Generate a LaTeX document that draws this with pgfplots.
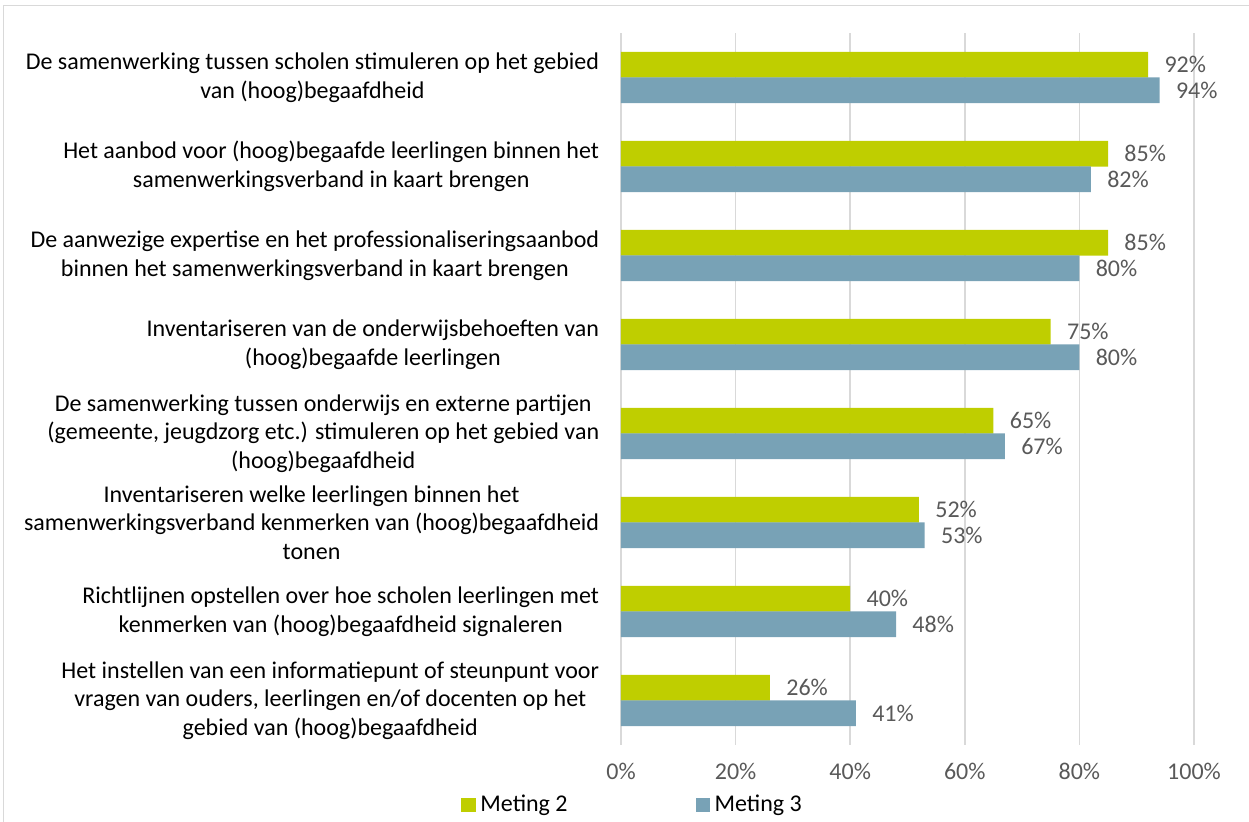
\documentclass[border=0pt]{standalone}
\usepackage{fontspec}
\setmainfont{Carlito}
\usepackage{pgfplots}
\pgfplotsset{compat=1.18}
\definecolor{mgreen}{HTML}{BFCE00}
\definecolor{mblue}{HTML}{78A2B6}
\definecolor{tgray}{HTML}{595959}
\definecolor{ggray}{HTML}{D9D9D9}
\begin{document}
\begin{tikzpicture}
\useasboundingbox (0,0) rectangle (624.5pt,-411pt);
\draw[ggray, line width=0.8pt] (1.75pt,-2.75pt) rectangle (640pt,-430pt);
\begin{axis}[
  at={(310.5pt,-372.5pt)}, anchor=south west,
  scale only axis, width=286.5pt, height=356pt,
  xbar, bar width=12.85pt,
  xmin=0, xmax=100, ymin=-0.5, ymax=7.5,
  axis line style={draw=none},
  xtick={0,20,40,60,80,100},
  xticklabel={\pgfmathprintnumber{\tick}\%},
  /pgf/number format/assume math mode=true,
  xmajorgrids, major grid style={ggray, line width=0.8pt},
  tick style={draw=none},
  xticklabel style={font=\fontsize{12}{14}\selectfont, text=tgray, anchor=north, inner sep=0pt, yshift=-9pt},
  ytick={0,1,2,3,4,5,6,7},
  yticklabels={
    {Het instellen van een informatiepunt of steunpunt voor\\vragen van ouders, leerlingen en/of docenten op het\\gebied van (hoog)begaafdheid},
    {Richtlijnen opstellen over hoe scholen leerlingen met\\kenmerken van (hoog)begaafdheid signaleren},
    {Inventariseren welke leerlingen binnen het\\samenwerkingsverband kenmerken van (hoog)begaafdheid\\tonen},
    {De samenwerking tussen onderwijs en externe partijen\\(gemeente, jeugdzorg etc.) stimuleren op het gebied van\\(hoog)begaafdheid},
    {Inventariseren van de onderwijsbehoeften van\\(hoog)begaafde leerlingen},
    {De aanwezige expertise en het professionaliseringsaanbod\\binnen het samenwerkingsverband in kaart brengen},
    {Het aanbod voor (hoog)begaafde leerlingen binnen het\\samenwerkingsverband in kaart brengen},
    {De samenwerking tussen scholen stimuleren op het gebied\\van (hoog)begaafdheid}
  },
  yticklabel style={font=\fontsize{12}{14.3}\selectfont, text=black, align=center, anchor=east, inner sep=0pt, xshift=-6.5pt},
  point meta=x,
  nodes near coords={\pgfmathprintnumber{\pgfplotspointmeta}\%},
  nodes near coords style={font=\fontsize{12}{14}\selectfont, text=tgray, anchor=west, inner sep=0pt, xshift=8pt},
  legend columns=2,
  legend style={at={(-0.2792,-0.0843)}, anchor=west, draw=none, fill=none, inner sep=0pt,
    font=\fontsize{12}{14}\selectfont, nodes={inner sep=0pt},
    /tikz/every odd column/.append style={column sep=2.2pt},
    /tikz/every even column/.append style={column sep=64pt}},
  legend image code/.code={\fill[#1] (0pt,-3.65pt) rectangle (7.3pt,3.65pt);},
]
\addplot[fill=mgreen, draw=none, bar shift=6.42pt] coordinates {
(92,7) (85,6) (85,5) (75,4) (65,3) (52,2) (40,1) (26,0)};
\addlegendentry{Meting 2}
\addplot[fill=mblue, draw=none, bar shift=-6.42pt] coordinates {
(94,7) (82,6) (80,5) (80,4) (67,3) (53,2) (48,1) (41,0)};
\addlegendentry{Meting 3}
\end{axis}
\end{tikzpicture}
\end{document}
